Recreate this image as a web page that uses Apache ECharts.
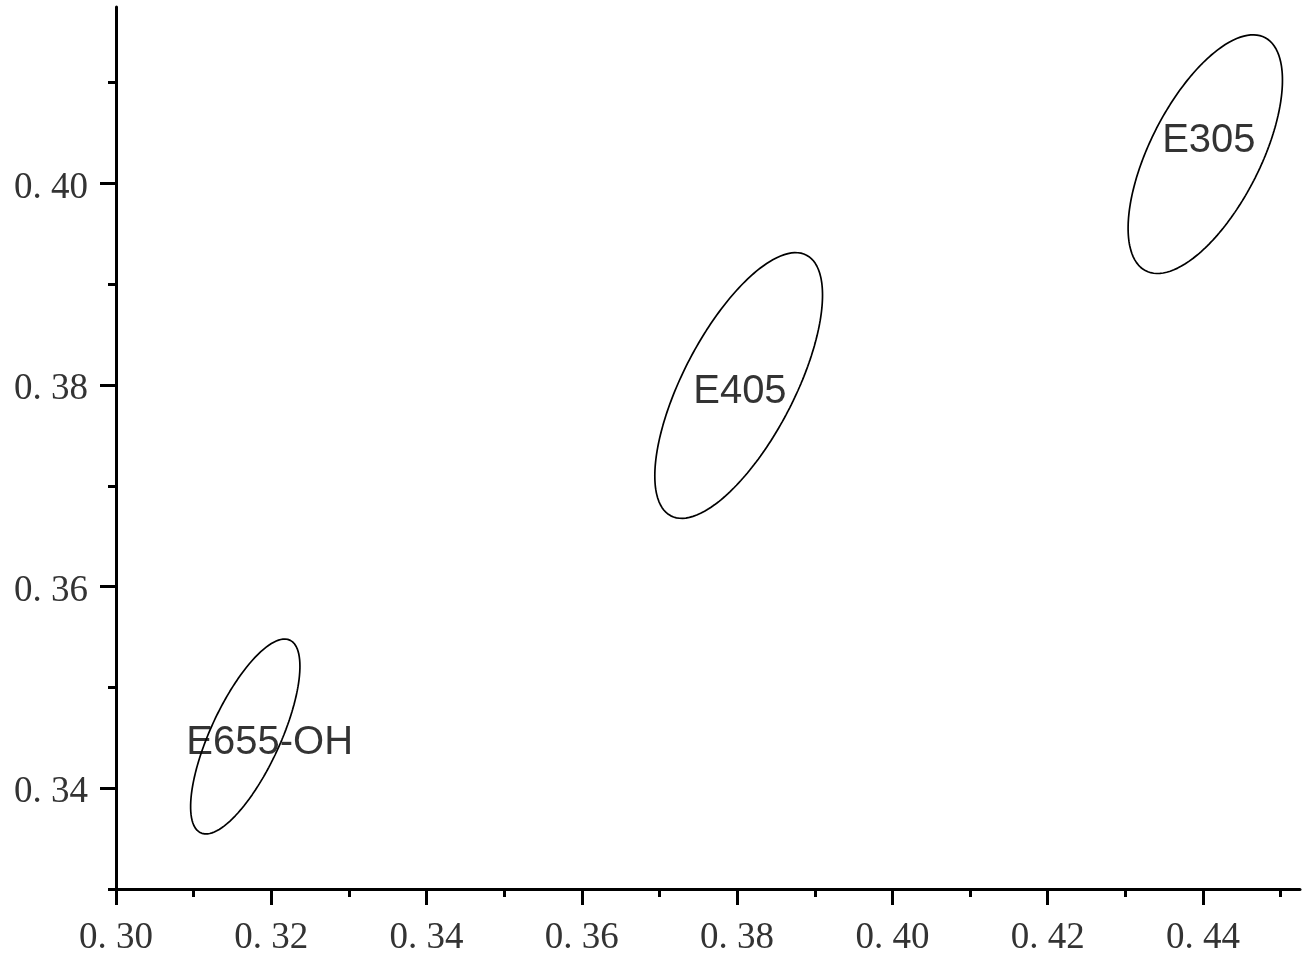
<!DOCTYPE html>
<html>
<head>
<meta charset="utf-8">
<script src="https://cdn.jsdelivr.net/npm/echarts@6/dist/echarts.min.js"></script>
<style>
html,body{margin:0;padding:0;background:#fff;}
#chart{width:1302px;height:957px;}
</style>
</head>
<body>
<div id="chart"></div>
<script>
// Group names and ellipse parameters
const groupNames   = ['E305', 'E405', 'E655-OH'];
const centerX      = [0.4403, 0.3802, 0.31665];
const centerY      = [0.4029, 0.37995, 0.34513];
const halfWidthX   = [0.00994, 0.0108, 0.00704];
const halfHeightY  = [0.01184, 0.01318, 0.00967];
const tilt         = [0.62, 0.68, 0.72];   // x/y coupling of each ellipse
const labelX       = [0.44076, 0.38036, 0.31979];
const labelY       = [0.40416, 0.37928, 0.34449];

// Axis ticks
const xMajorTicks = [0.30, 0.32, 0.34, 0.36, 0.38, 0.40, 0.42, 0.44];
const xMinorTicks = [0.31, 0.33, 0.35, 0.37, 0.39, 0.41, 0.43, 0.45];
const yMajorTicks = [0.34, 0.36, 0.38, 0.40];
const yMinorTicks = [0.33, 0.35, 0.37, 0.39, 0.41];

function ellipsePoints(i) {
  const pts = [];
  const phi = Math.acos(tilt[i]);
  const n = 240;
  for (let k = 0; k <= n; k++) {
    const t = 2 * Math.PI * k / n;
    pts.push([centerX[i] + halfWidthX[i] * Math.cos(t),
              centerY[i] + halfHeightY[i] * Math.cos(t - phi)]);
  }
  return pts;
}

const fmt = v => v.toFixed(2).replace('.', '. ');
const labelStyle = {
  fontFamily: 'Liberation Serif',
  fontSize: 37,
  color: '#333'
};

const series = groupNames.map((name, i) => ({
  type: 'line',
  name: name,
  data: ellipsePoints(i),
  showSymbol: false,
  symbol: 'none',
  smooth: false,
  lineStyle: { color: '#000', width: 1.7 },
  silent: true,
  z: 3
}));
series.push({
  type: 'scatter',
  data: groupNames.map((name, i) => ({ name: name, value: [labelX[i], labelY[i]] })),
  symbolSize: 0,
  silent: true,
  label: {
    show: true,
    position: 'inside',
    formatter: p => p.name,
    fontFamily: 'Liberation Sans',
    fontSize: 40,
    color: '#000'
  },
  z: 4
});

const axisLineStyle = { show: true, lineStyle: { color: '#000', width: 3 } };

const option = {
  animation: false,
  backgroundColor: '#fff',
  grid: { left: 116, right: 2, top: 7, bottom: 66, containLabel: false },
  xAxis: [
    {
      type: 'value', min: 0.30, max: 0.4525, position: 'bottom',
      axisLine: axisLineStyle,
      splitLine: { show: false },
      axisTick: { show: true, customValues: xMajorTicks, length: 16, lineStyle: { color: '#000', width: 3 } },
      axisLabel: Object.assign({ show: true, customValues: xMajorTicks, formatter: fmt, margin: 31 }, labelStyle)
    },
    {
      type: 'value', min: 0.30, max: 0.4525, position: 'bottom', gridIndex: 0,
      axisLine: { show: false },
      splitLine: { show: false },
      axisTick: { show: true, customValues: xMinorTicks, length: 8, lineStyle: { color: '#000', width: 3 } },
      axisLabel: { show: false }
    }
  ],
  yAxis: [
    {
      type: 'value', min: 0.33, max: 0.4175, position: 'left',
      axisLine: axisLineStyle,
      splitLine: { show: false },
      axisTick: { show: true, customValues: yMajorTicks, length: 16, lineStyle: { color: '#000', width: 3 } },
      axisLabel: Object.assign({
        show: true, customValues: yMajorTicks, margin: 28,
        formatter: v => '{v|' + fmt(v) + '}',
        rich: { v: { fontFamily: 'Liberation Serif', fontSize: 37, color: '#333', padding: [9, 0, 0, 0] } }
      }, labelStyle)
    },
    {
      type: 'value', min: 0.33, max: 0.4175, position: 'left', gridIndex: 0,
      axisLine: { show: false },
      splitLine: { show: false },
      axisTick: { show: true, customValues: yMinorTicks, length: 8, lineStyle: { color: '#000', width: 3 } },
      axisLabel: { show: false }
    }
  ],
  series: series
};

const chart = echarts.init(document.getElementById('chart'));
chart.setOption(option);
</script>
</body>
</html>
